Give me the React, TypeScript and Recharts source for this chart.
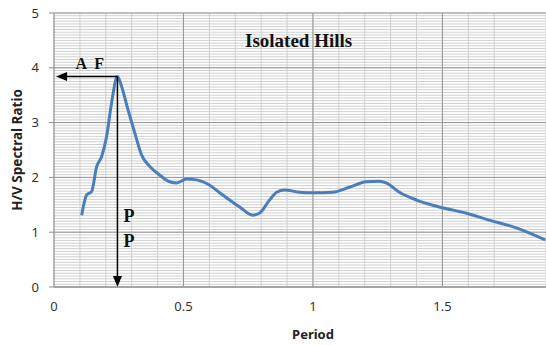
import { LineChart, Line, XAxis, YAxis, CartesianGrid, ReferenceLine } from 'recharts';

// H/V spectral ratio curve
const periods = [
  0.107, 0.126, 0.145, 0.165, 0.184, 0.203, 0.222, 0.245, 0.261, 0.286, 0.312, 0.338,
  0.37, 0.409, 0.447, 0.473, 0.512, 0.555, 0.6, 0.64, 0.717, 0.767, 0.794, 0.833,
  0.86, 0.89, 0.948, 1.0, 1.076, 1.14, 1.206, 1.257, 1.283, 1.334, 1.398, 1.488,
  1.59, 1.68, 1.785, 1.897,
];
const ratios = [
  1.31, 1.68, 1.74, 2.2, 2.38, 2.74, 3.35, 3.84, 3.66, 3.23, 2.81, 2.41,
  2.2, 2.04, 1.92, 1.9, 1.97, 1.95, 1.86, 1.72, 1.46, 1.31, 1.35, 1.59,
  1.73, 1.77, 1.73, 1.72, 1.73, 1.82, 1.92, 1.93, 1.9, 1.73, 1.59, 1.46,
  1.35, 1.22, 1.08, 0.86,
];

const xTicks = [0, 0.5, 1, 1.5];
const yTicks = [0, 1, 2, 3, 4, 5];

// peak marked with the arrows (amplification factor / predominant period)
const peakPeriod = 0.245;
const peakRatio = 3.84;

const data = periods.map((p, i) => ({ period: p, ratio: ratios[i] }));

const yMax = 5;
const minorX = Array.from({ length: 20 }, (_, i) => +(i * 0.1).toFixed(1));
const minorY = Array.from({ length: 101 }, (_, i) => +(i * 0.05).toFixed(2));
const majorX = [0.5, 1, 1.5];

const serif = '"Liberation Serif", "Times New Roman", serif';

// grid rows between the axis ticks
const minorRows = ({ offset }: any) =>
  minorY.map((v) => offset.top + offset.height * (1 - v / yMax));

const leftArrow = (props: any) => {
  const { x1, y1, x2, y2 } = props;
  return (
    <g>
      <line x1={x1} y1={y1} x2={x2 + 8} y2={y2} stroke="#000" strokeWidth={1.5} />
      <polygon points={`${x2},${y2} ${x2 + 11},${y2 - 4.5} ${x2 + 11},${y2 + 4.5}`} fill="#000" />
      <text x={(x1 + x2) / 2 + 4} y={y1 - 8} textAnchor="middle" fontFamily={serif} fontWeight="bold" fontSize={16} letterSpacing={2} fill="#111">
        A F
      </text>
    </g>
  );
};

const downArrow = (props: any) => {
  const { x1, y1, x2, y2 } = props;
  return (
    <g>
      <line x1={x1} y1={y1} x2={x2} y2={y2 - 8} stroke="#000" strokeWidth={1.5} />
      <polygon points={`${x2},${y2} ${x2 - 4.5},${y2 - 11} ${x2 + 4.5},${y2 - 11}`} fill="#000" />
      <text x={x2 + 6} y={y2 - 65} fontFamily={serif} fontWeight="bold" fontSize={18} fill="#111">P</text>
      <text x={x2 + 6} y={y2 - 40} fontFamily={serif} fontWeight="bold" fontSize={18} fill="#111">P</text>
    </g>
  );
};

export default function App() {
  return (
    <div style={{ position: 'absolute', left: 0, top: 0, width: 546, height: 345, background: '#fff' }}>
      <LineChart
        width={546}
        height={345}
        data={data}
        margin={{ top: 13, right: 0, left: 0, bottom: 0 }}
        style={{ fontFamily: '"Noto Sans", sans-serif' }}
      >
        <CartesianGrid
          horizontalCoordinatesGenerator={minorRows}
          verticalValues={minorX}
          stroke="#cfcfcf"
          strokeWidth={1}
        />
        <CartesianGrid
          horizontalValues={yTicks}
          verticalValues={majorX}
          stroke="#969696"
          strokeWidth={1}
        />
        <XAxis
          type="number"
          dataKey="period"
          domain={[0, 1.9]}
          ticks={xTicks}
          allowDataOverflow
          height={58}
          tickSize={0}
          tickMargin={15}
          stroke="#8c8c8c"
          tick={{ fill: '#333', fontSize: 13 }}
          label={{ value: 'Period', position: 'insideBottom', offset: 6, dx: 13, fill: '#222', fontSize: 13, fontWeight: 'bold' }}
        />
        <YAxis
          type="number"
          domain={[0, yMax]}
          ticks={yTicks}
          width={54}
          tickSize={5}
          tickMargin={10}
          stroke="#8c8c8c"
          tick={{ fill: '#333', fontSize: 13 }}
          label={{ value: 'H/V Spectral Ratio', angle: -90, position: 'insideLeft', offset: 17, fill: '#222', fontSize: 13.5, fontWeight: 'bold', style: { textAnchor: 'middle' } }}
        />
        <Line
          type="monotone"
          dataKey="ratio"
          stroke="#4a7ebb"
          strokeWidth={3}
          dot={false}
          isAnimationActive={false}
        />
        <ReferenceLine
          segment={[{ x: peakPeriod, y: peakRatio }, { x: 0.008, y: peakRatio }]}
          shape={leftArrow}
        />
        <ReferenceLine
          segment={[{ x: peakPeriod, y: peakRatio }, { x: peakPeriod, y: 0 }]}
          shape={downArrow}
        />
      </LineChart>
      <div
        style={{
          position: 'absolute',
          left: 245,
          top: 30,
          fontFamily: serif,
          fontWeight: 'bold',
          fontSize: 19,
          color: '#111',
          whiteSpace: 'nowrap',
        }}
      >
        Isolated Hills
      </div>
    </div>
  );
}
